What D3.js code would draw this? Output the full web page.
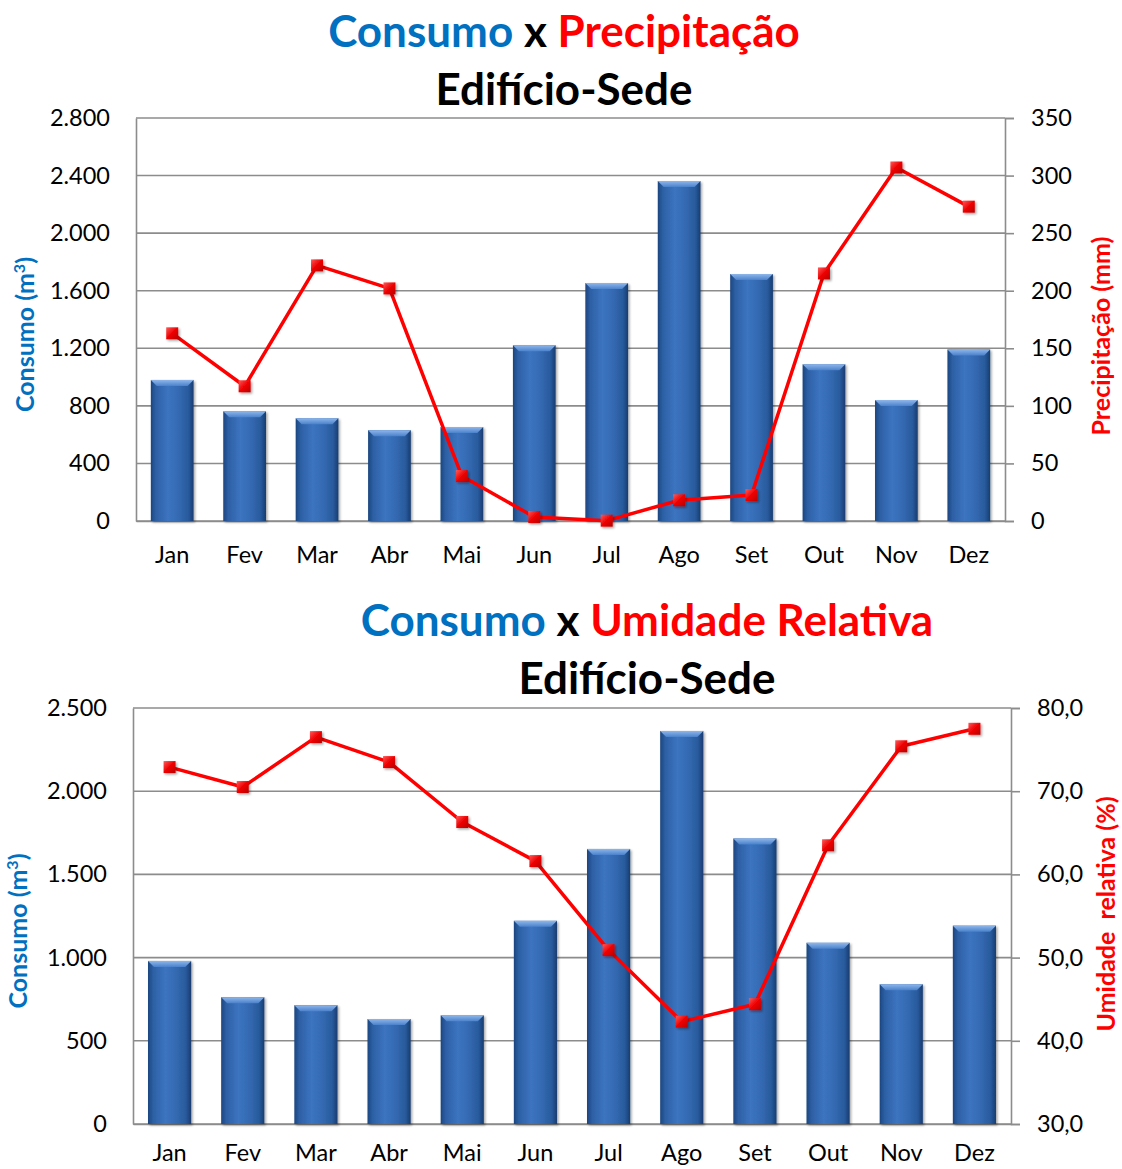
<!DOCTYPE html>
<html>
<head>
<meta charset="utf-8">
<script src="https://cdn.jsdelivr.net/npm/d3@7"></script>
<style>
  html, body { margin: 0; padding: 0; background: #fff; }
  svg { display: block; }
  text { font-family: Lato, "Open Sans", sans-serif; }
</style>
</head>
<body>
<svg id="chart" width="1122" height="1169"></svg>
<script>
// Monthly categories
const months = ["Jan", "Fev", "Mar", "Abr", "Mai", "Jun", "Jul", "Ago", "Set", "Out", "Nov", "Dez"];

// Water consumption (m³), same series in both panels
const consumo = [980, 762, 714, 631, 653, 1221, 1653, 2362, 1716, 1089, 840, 1192];

// Rainfall (mm)
const precipitacao = [163, 117, 222, 202, 39, 3.5, 0.3, 18, 22.5, 215, 307, 273];

// Relative humidity (%)
const umidade = [72.9, 70.5, 76.5, 73.5, 66.3, 61.6, 50.9, 42.3, 44.4, 63.5, 75.4, 77.5];

// Axis tick values
const ticksConsumo1 = [0, 400, 800, 1200, 1600, 2000, 2400, 2800];
const ticksPrecip = [0, 50, 100, 150, 200, 250, 300, 350];
const ticksConsumo2 = [0, 500, 1000, 1500, 2000, 2500];
const ticksUmidade = [30, 40, 50, 60, 70, 80];

const BLUE = "#0070C0", RED = "#FF0000", GRID = "#8c8c8c";
const ptThousands = d3.formatLocale({ decimal: ",", thousands: ".", grouping: [3], currency: ["R$", ""] });
const fmtInt = ptThousands.format(",d");
const fmtOne = ptThousands.format(",.1f");

const TICK_FS = 23.5, AXIS_TITLE_FS = 25, TITLE_FS = 44;

const svg = d3.select("#chart");
const defs = svg.append("defs");

// Bar body: darker edges, lighter centre
const gBar = defs.append("linearGradient").attr("id", "barGrad").attr("x1", 0).attr("x2", 1).attr("y1", 0).attr("y2", 0);
[["0%", "#1c4680"], ["12%", "#2d60a5"], ["40%", "#3c74c0"], ["65%", "#346ab2"], ["88%", "#285a9c"], ["100%", "#183c70"]]
  .forEach(([o, c]) => gBar.append("stop").attr("offset", o).attr("stop-color", c));
// Bar top bevel
const gCap = defs.append("linearGradient").attr("id", "capGrad").attr("x1", 0).attr("x2", 0).attr("y1", 0).attr("y2", 1);
[["0%", "#8fb6ea"], ["100%", "#4a82cc"]].forEach(([o, c]) => gCap.append("stop").attr("offset", o).attr("stop-color", c));
// Marker fill
const gMk = defs.append("linearGradient").attr("id", "mkGrad").attr("x1", 0).attr("x2", 1).attr("y1", 0).attr("y2", 1);
[["0%", "#ff5a5a"], ["50%", "#ee0000"], ["100%", "#b80000"]].forEach(([o, c]) => gMk.append("stop").attr("offset", o).attr("stop-color", c));
// Soft shadow
const sh = defs.append("filter").attr("id", "shadow").attr("x", "-20%").attr("y", "-20%").attr("width", "150%").attr("height", "150%");
sh.append("feDropShadow").attr("dx", 1.5).attr("dy", 1.5).attr("stdDeviation", 1.2).attr("flood-color", "#000").attr("flood-opacity", 0.35);

function drawPanel(cfg) {
  const g = svg.append("g");
  const { left, right, top, bottom } = cfg;

  const x = d3.scaleBand().domain(months).range([left, right]).paddingInner(0.41).paddingOuter(0.205);
  const yL = d3.scaleLinear().domain(cfg.leftDomain).range([bottom, top]);
  const yR = d3.scaleLinear().domain(cfg.rightDomain).range([bottom, top]);

  // Horizontal gridlines
  g.append("g").selectAll("line").data(cfg.leftTicks).join("line")
    .attr("x1", left).attr("x2", right)
    .attr("y1", d => yL(d)).attr("y2", d => yL(d))
    .attr("stroke", GRID).attr("stroke-width", 1.6);

  // Left axis
  const axL = g.append("g").attr("transform", `translate(${left},0)`)
    .call(d3.axisLeft(yL).tickValues(cfg.leftTicks).tickSize(0).tickPadding(cfg.leftPad).tickFormat(fmtInt));
  axL.select(".domain").attr("stroke", GRID).attr("stroke-width", 1.6);
  axL.selectAll("text").attr("font-size", TICK_FS).attr("fill", "#000");

  // Right axis
  const axR = g.append("g").attr("transform", `translate(${right},0)`)
    .call(d3.axisRight(yR).tickValues(cfg.rightTicks).tickSize(cfg.rightTick).tickPadding(cfg.rightPad).tickFormat(cfg.rightFormat));
  axR.select(".domain").attr("stroke", GRID).attr("stroke-width", 1.6);
  axR.selectAll("line").attr("stroke", GRID).attr("stroke-width", 1.6);
  axR.selectAll("text").attr("font-size", TICK_FS).attr("fill", "#000");

  // Bottom axis
  const axB = g.append("g").attr("transform", `translate(0,${bottom})`)
    .call(d3.axisBottom(x).tickSize(0).tickPadding(cfg.bottomPad));
  axB.select(".domain").attr("stroke", GRID).attr("stroke-width", 1.6);
  axB.selectAll("text").attr("font-size", TICK_FS).attr("fill", "#000");

  // Bars
  const bars = g.append("g").selectAll("g").data(months.map((m, i) => ({ m, v: consumo[i] }))).join("g")
    .attr("filter", "url(#shadow)");
  bars.append("rect")
    .attr("x", d => x(d.m)).attr("width", x.bandwidth())
    .attr("y", d => yL(d.v)).attr("height", d => bottom - yL(d.v))
    .attr("fill", "url(#barGrad)");
  // Top bevel as a trapezoid
  bars.append("path")
    .attr("d", d => {
      const x0 = x(d.m), x1 = x0 + x.bandwidth(), y0 = yL(d.v), b = 6;
      return `M${x0},${y0}L${x1},${y0}L${x1 - b},${y0 + b}L${x0 + b},${y0 + b}Z`;
    })
    .attr("fill", "url(#capGrad)");

  // Line series on the right axis
  const pts = months.map((m, i) => ({ m, v: cfg.lineValues[i] }));
  const cx = d => x(d.m) + x.bandwidth() / 2;
  g.append("path").datum(pts)
    .attr("fill", "none").attr("stroke", RED).attr("stroke-width", 3.5).attr("stroke-linejoin", "round")
    .attr("d", d3.line().x(cx).y(d => yR(d.v)));
  const s = 12;
  g.append("g").selectAll("rect").data(pts).join("rect")
    .attr("x", d => cx(d) - s / 2).attr("y", d => yR(d.v) - s / 2)
    .attr("width", s).attr("height", s)
    .attr("fill", "url(#mkGrad)").attr("filter", "url(#shadow)");

  // Axis titles
  g.append("text")
    .attr("transform", `translate(${cfg.leftTitleX},${(top + bottom) / 2 + cfg.leftTitleDy}) rotate(-90)`)
    .attr("text-anchor", "middle").attr("font-weight", 700).attr("font-size", AXIS_TITLE_FS).attr("fill", BLUE)
    .call(t => {
      t.append("tspan").text("Consumo (m");
      t.append("tspan").attr("font-size", 16).attr("dy", -9).text("3");
      t.append("tspan").attr("dy", 9).text(")");
    });
  g.append("text")
    .attr("transform", `translate(${cfg.rightTitleX},${cfg.rightTitleY}) rotate(-90)`)
    .attr("text-anchor", "middle").attr("font-weight", 700).attr("font-size", AXIS_TITLE_FS).attr("fill", RED)
    .style("white-space", "pre")
    .text(cfg.rightTitle);

  // Chart title
  const t1 = g.append("text").attr("x", cfg.titleX).attr("y", cfg.titleY1)
    .attr("text-anchor", "middle").attr("font-weight", 700).attr("font-size", TITLE_FS);
  t1.append("tspan").attr("fill", BLUE).text("Consumo");
  t1.append("tspan").attr("fill", "#000").text(" x ");
  t1.append("tspan").attr("fill", RED).text(cfg.titleRed);
  g.append("text").attr("x", cfg.titleX).attr("y", cfg.titleY2)
    .attr("text-anchor", "middle").attr("font-weight", 700).attr("font-size", TITLE_FS).attr("fill", "#000")
    .text("Edifício-Sede");
}

drawPanel({
  left: 136, right: 1005, top: 118, bottom: 521,
  leftDomain: [0, 2800], leftTicks: ticksConsumo1, leftPad: 26,
  rightDomain: [0, 350], rightTicks: ticksPrecip, rightTick: 9, rightPad: 17,
  rightFormat: fmtInt, bottomPad: 25,
  lineValues: precipitacao,
  leftTitleX: 34, leftTitleDy: 15,
  rightTitleX: 1110, rightTitleY: 336, rightTitle: "Precipitação (mm)",
  titleX: 564, titleY1: 47, titleY2: 105, titleRed: "Precipitação"
});

drawPanel({
  left: 133, right: 1011, top: 708, bottom: 1124,
  leftDomain: [0, 2500], leftTicks: ticksConsumo2, leftPad: 26,
  rightDomain: [30, 80], rightTicks: ticksUmidade, rightTick: 9, rightPad: 17,
  rightFormat: fmtOne, bottomPad: 20,
  lineValues: umidade,
  leftTitleX: 27, leftTitleDy: 15,
  rightTitleX: 1115, rightTitleY: 914, rightTitle: "Umidade  relativa (%)",
  titleX: 647, titleY1: 636, titleY2: 694, titleRed: "Umidade Relativa"
});
</script>
</body>
</html>
